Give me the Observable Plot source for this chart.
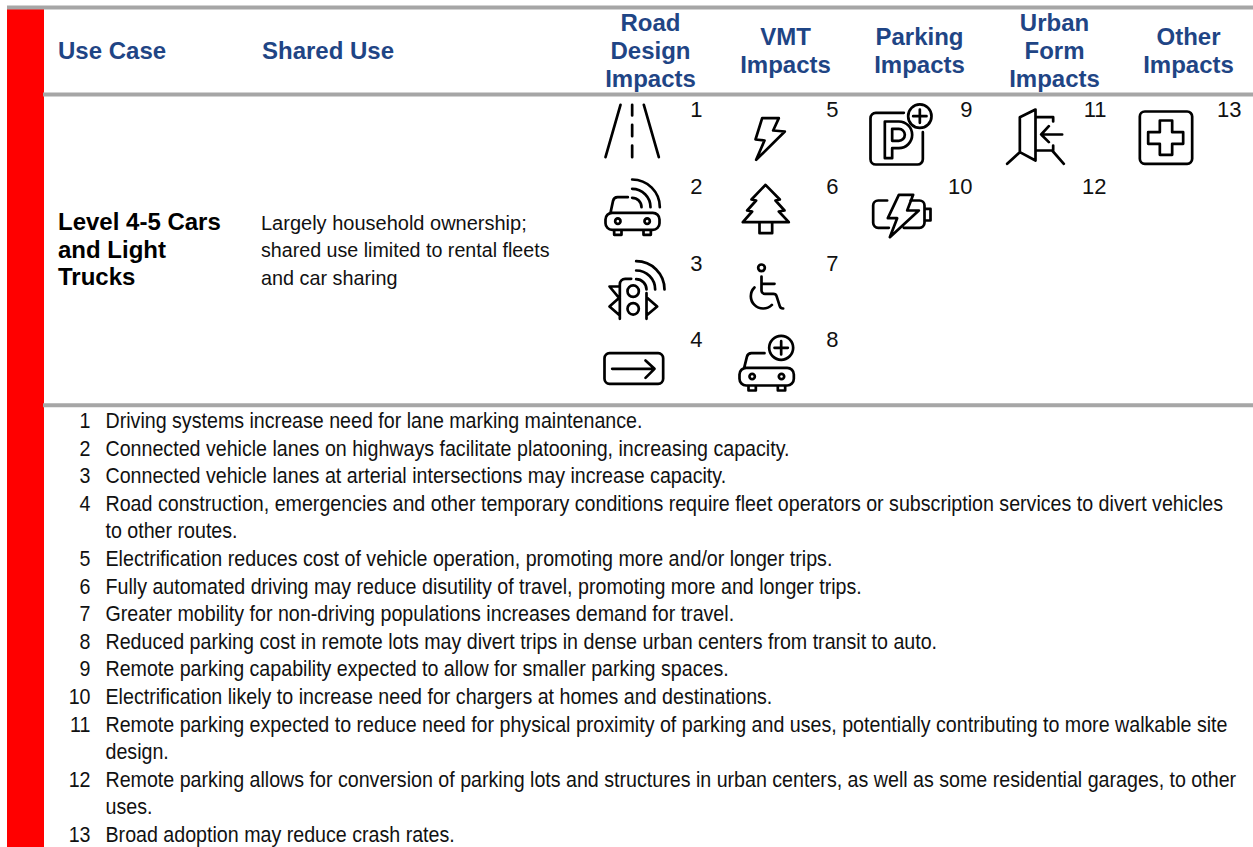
<!DOCTYPE html>
<html><head><meta charset="utf-8">
<script src="https://cdn.jsdelivr.net/npm/d3@7"></script>
<script src="https://cdn.jsdelivr.net/npm/@observablehq/plot@0.6"></script>
<style>html,body{margin:0;padding:0;background:#fff}svg{display:block}</style>
</head><body><div id="chart"></div>
<script>
// ---- table content ----
const headers = ["Use Case","Shared Use","Road\nDesign\nImpacts","VMT\nImpacts","Parking\nImpacts","Urban\nForm\nImpacts","Other\nImpacts"];
const useCaseLines = ["Level 4-5 Cars","and Light","Trucks"];
const sharedUseLines = ["Largely household ownership;","shared use limited to rental fleets","and car sharing"];
const impactColumns = [
  {col:0, ids:[1,2,3,4], icons:["road","carSignal","trafficLight","arrowBox"]},
  {col:1, ids:[5,6,7,8], icons:["bolt","tree","wheelchair","carPlus"]},
  {col:2, ids:[9,10], icons:["parkingPlus","battery"]},
  {col:3, ids:[11,12], icons:["door",null]},
  {col:4, ids:[13], icons:["cross"]}
];
const footnoteNumbers = [1,2,3,4,null,5,6,7,8,9,10,11,null,12,null,13];
const footnoteLines = [
"Driving systems increase need for lane marking maintenance.",
"Connected vehicle lanes on highways facilitate platooning, increasing capacity.",
"Connected vehicle lanes at arterial intersections may increase capacity.",
"Road construction, emergencies and other temporary conditions require fleet operators or subscription services to divert vehicles",
"to other routes.",
"Electrification reduces cost of vehicle operation, promoting more and/or longer trips.",
"Fully automated driving may reduce disutility of travel, promoting more and longer trips.",
"Greater mobility for non-driving populations increases demand for travel.",
"Reduced parking cost in remote lots may divert trips in dense urban centers from transit to auto.",
"Remote parking capability expected to allow for smaller parking spaces.",
"Electrification likely to increase need for chargers at homes and destinations.",
"Remote parking expected to reduce need for physical proximity of parking and uses, potentially contributing to more walkable site",
"design.",
"Remote parking allows for conversion of parking lots and structures in urban centers, as well as some residential garages, to other",
"uses.",
"Broad adoption may reduce crash rates."
];

// ---- layout (table grid) ----
const W = 1253, H = 847;
const headerX = [57.5, 261.5, 650, 785, 919, 1054, 1188];
const headerAnchor = ["start","start","middle","middle","middle","middle","middle"];
const headerMid = 51, headerStep = 28;
const iconColX = [632, 767, 900, 1035, 1170];
const iconRowY = [130, 207, 287, 365];
const numberRight = [702, 838, 972, 1106, 1241];
const numberBase = [118, 195, 272, 348];
const navy = "#1f4585", grey = "#a6a6a6", ink = "#111";
const sans = "'Liberation Sans', Arial, sans-serif";
const footScale = 0.893;
const sharedScale = [1, 0.983, 0.99];
const squeeze = sx => (I, s, v, d, c, next) => {
  const g = next(I, s, v, d, c);
  g.querySelectorAll("text").forEach(t => t.setAttribute("transform", (t.getAttribute("transform") || "") + ` scale(${sx},1)`));
  return g;
};

// ---- icon glyphs: drawn relative to the grid slot they sit in ----
function pen(ctx, ox, oy) {
  const X = x => (x - ox) / 3, Y = y => (y - oy) / 3, rad = d => d * Math.PI / 180;
  const p = {
    poly(pts, close) { pts.forEach(([x, y], i) => i ? ctx.lineTo(X(x), Y(y)) : ctx.moveTo(X(x), Y(y))); if (close) ctx.closePath(); },
    rpoly(pts, r) {
      ctx.moveTo(X(pts[0][0]), Y(pts[0][1]));
      for (let i = 1; i < pts.length - 1; ++i) ctx.arcTo(X(pts[i][0]), Y(pts[i][1]), X(pts[i+1][0]), Y(pts[i+1][1]), r / 3);
      const e = pts[pts.length - 1]; ctx.lineTo(X(e[0]), Y(e[1]));
    },
    circle(x, y, r) { ctx.moveTo(X(x + r), Y(y)); ctx.arc(X(x), Y(y), r / 3, 0, 2 * Math.PI); ctx.closePath(); },
    arc(x, y, r, a0, a1) { ctx.moveTo(X(x) + r / 3 * Math.cos(rad(a0)), Y(y) + r / 3 * Math.sin(rad(a0))); ctx.arc(X(x), Y(y), r / 3, rad(a0), rad(a1)); },
    rrect(x0, y0, x1, y1, r) {
      ctx.moveTo(X(x0 + r), Y(y0));
      ctx.arcTo(X(x1), Y(y0), X(x1), Y(y1), r / 3);
      ctx.arcTo(X(x1), Y(y1), X(x0), Y(y1), r / 3);
      ctx.arcTo(X(x0), Y(y1), X(x0), Y(y0), r / 3);
      ctx.arcTo(X(x0), Y(y0), X(x1), Y(y0), r / 3);
      ctx.closePath();
    },
    car(bx0, by0, bx1, by1, h1, h2, hy) {
      p.rrect(bx0, by0, bx1, by1, 20);
      p.circle(h1, hy, 8); p.circle(h2, hy, 8);
      p.poly([[h1 - 11, by1], [h1 - 11, by1 + 15], [h1 + 11, by1 + 15], [h1 + 11, by1]]);
      p.poly([[h2 - 11, by1], [h2 - 11, by1 + 15], [h2 + 11, by1 + 15], [h2 + 11, by1]]);
    }
  };
  return p;
}
const iconDefs = {
  road: [126, 105, p => {
    p.poly([[90,28],[45,185]]); p.poly([[160,28],[205,185]]);
    p.poly([[125,28],[125,60]]); p.poly([[125,88],[125,122]]); p.poly([[125,150],[125,185]]);
  }],
  carSignal: [126, 336, p => {
    p.car(45,352,207,403,82,170,377);
    p.rpoly([[60,352],[70,305],[112,305]], 14);
    p.arc(125,335,83,-90,0); p.arc(125,335,55,-90,0); p.arc(125,335,28,-90,0);
  }],
  trafficLight: [126, 111, p => {
    p.circle(128,122,17); p.circle(128,175,17);
    p.rpoly([[88,205],[88,85],[122,85]], 16);
    p.poly([[168,205],[168,128]]);
    p.poly([[88,108],[57,108],[88,145]]);
    p.poly([[88,140],[57,168],[88,195]]);
    p.poly([[168,140],[200,168],[168,195]]);
    p.arc(137,117,85,-90,0); p.arc(137,117,57,-90,0); p.arc(137,117,31,-90,0);
  }],
  arrowBox: [126, 345, p => {
    p.rrect(42,308,218,400,15);
    p.poly([[65,355],[190,355]]); p.poly([[165,330],[192,355],[165,382]]);
  }],
  bolt: [531, 105, p => {
    p.poly([[515,68],[565,68],[548,105],[583,108],[497,193],[522,135],[495,132]], true);
  }],
  tree: [531, 336, p => {
    p.poly([[525,268],[483,312],[497,315],[470,345],[485,348],[457,380],[595,380],[565,348],[582,345],[555,315],[568,312]], true);
    p.poly([[507,380],[507,413],[545,413],[545,380]]);
  }],
  wheelchair: [531, 111, p => {
    p.circle(513,52,10);
    p.rpoly([[513,78],[513,130],[556,130],[570,174],[578,174]], 10);
    p.poly([[513,100],[552,100]]);
    p.arc(518,137,37,45,225);
  }],
  carPlus: [531, 345, p => {
    p.car(447,352,610,405,485,573,378);
    p.rpoly([[461,352],[472,308],[522,308]], 14);
    p.circle(572,292,36); p.poly([[572,272],[572,312]]); p.poly([[552,292],[592,292]]);
  }],
  parkingPlus: [150, 105, p => {
    p.rpoly([[160,52],[60,52],[60,207],[217,207],[217,110]], 16);
    p.circle(208,62,35); p.poly([[208,42],[208,82]]); p.poly([[188,62],[228,62]]);
    p.poly([[103,188],[103,78],[145,78]]); p.arc(145,118,40,-90,90); p.poly([[145,158],[125,158],[125,188],[103,188]]);
    p.poly([[125,100],[145,100]]); p.arc(145,118,18,-90,90); p.poly([[145,136],[125,136],[125,100]]);
  }],
  battery: [150, 336, p => {
    p.rpoly([[110,315],[68,315],[68,397],[115,397]], 15);
    p.rpoly([[180,315],[222,315],[222,397],[160,397]], 15);
    p.poly([[225,340],[240,340],[240,375],[225,375]]);
    p.poly([[145,298],[188,298],[170,345],[205,345],[118,425],[140,368],[112,368]], true);
  }],
  door: [555, 105, p => {
    p.poly([[555,42],[508,65],[508,170],[555,195]], true);
    p.poly([[555,65],[608,65],[608,78]]); p.poly([[555,165],[608,165],[608,150]]);
    p.poly([[635,117],[572,117]]); p.poly([[595,92],[572,117],[595,140]]);
    p.poly([[508,170],[470,205]]); p.poly([[605,165],[640,205]]);
  }],
  cross: [960, 105, p => {
    p.rrect(868,48,1025,205,15);
    p.poly([[928,75],[965,75],[965,110],[998,110],[998,145],[965,145],[965,178],[928,178],[928,145],[893,145],[893,110],[928,110]], true);
  }]
};
const glyph = name => ({draw(ctx) { const [ox, oy, f] = iconDefs[name]; f(pen(ctx, ox, oy)); }});

// ---- derived tables ----
const headerRows = headers.flatMap((h, c) => {
  const ls = h.split("\n");
  return ls.map((t, i) => ({t, c, y: headerMid + (i - (ls.length - 1) / 2) * headerStep}));
});
const slots = impactColumns.flatMap(({col, ids, icons}) => ids.map((id, row) => ({id, col, row, icon: icons[row]})));
const footRows = footnoteLines.map((t, i) => ({t, n: footnoteNumbers[i], i}));
const footBase = i => 429.5 + 27.6 * i;

const chart = Plot.plot({
  width: W, height: H, margin: 0,
  x: {domain: [0, W], range: [0, W], axis: null},
  y: {domain: [0, H], range: [0, H], axis: null},
  style: {background: "#fff"},
  marks: [
    Plot.rect([0], {x1: 7, x2: 44, y1: 8, y2: H, fill: "#ff0000"}),
    Plot.ruleY([7], {x1: 7, x2: W, stroke: grey, strokeWidth: 4}),
    Plot.ruleY([94, 404.7], {x1: 43, x2: W, stroke: grey, strokeWidth: 4}),
    ...[0, 1, 2, 3, 4, 5, 6].map(c => Plot.text(headerRows.filter(d => d.c === c), {
      x: headerX[c], y: "y", text: "t", textAnchor: headerAnchor[c],
      fontFamily: sans, fontWeight: "bold", fontSize: 24, fill: navy, lineAnchor: "middle"
    })),
    Plot.text(useCaseLines, {x: 57.5, y: (d, i) => 222 + i * 27.6, text: d => d, textAnchor: "start",
      fontFamily: sans, fontWeight: "bold", fontSize: 24, fill: "#000", lineAnchor: "middle"}),
    ...sharedUseLines.map((line, i) => Plot.text([line], {x: 260.5, y: 223 + i * 27.5, text: d => d, textAnchor: "start",
      fontFamily: sans, fontSize: 20, fill: ink, lineAnchor: "middle", render: squeeze(sharedScale[i])})),
    Plot.text(slots, {x: d => numberRight[d.col], y: d => numberBase[d.row], text: d => String(d.id), textAnchor: "end",
      fontFamily: sans, fontSize: 22, fill: ink, lineAnchor: "bottom", dy: -1.5}),
    ...slots.filter(d => d.icon).map(d => Plot.dot([d], {
      x: iconColX[d.col], y: iconRowY[d.row], r: 10, symbol: glyph(d.icon),
      fill: "none", stroke: "#000", strokeWidth: 2.7, strokeLinecap: "round", strokeLinejoin: "round"
    })),
    Plot.text(footRows.filter(d => d.n != null), {x: 90, y: d => footBase(d.i), text: d => String(d.n), textAnchor: "end",
      fontFamily: sans, fontSize: 22, fill: ink, lineAnchor: "bottom", dy: -2, render: squeeze(footScale)}),
    Plot.text(footRows, {x: 105, y: d => footBase(d.i), text: "t", textAnchor: "start",
      fontFamily: sans, fontSize: 22, fill: ink, lineAnchor: "bottom", dy: -2, render: squeeze(footScale)})
  ]
});
document.getElementById("chart").appendChild(chart);
</script></body></html>
